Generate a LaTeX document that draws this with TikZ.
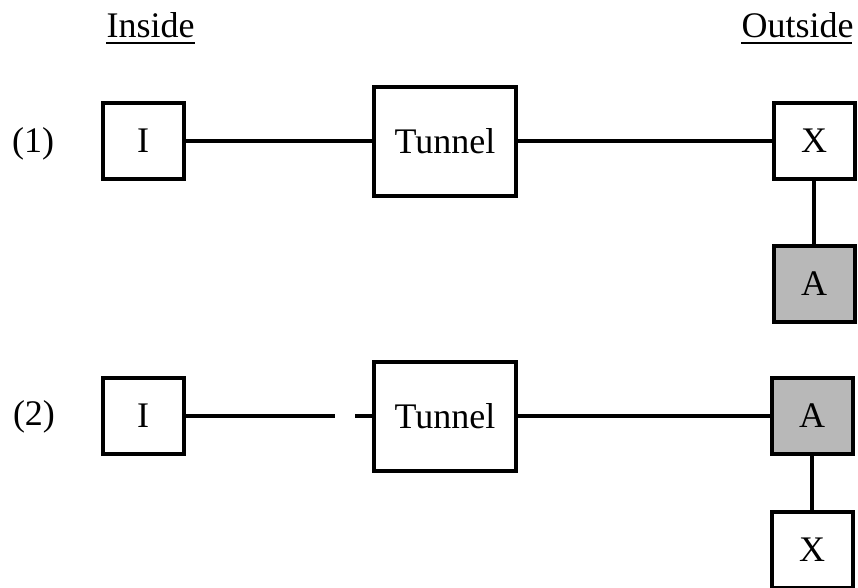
\documentclass[tikz,border=0pt]{standalone}
\usepackage{fontspec}
\setmainfont{Liberation Serif}
\begin{document}
\begin{tikzpicture}[x=1pt,y=-1pt,
  every node/.style={font=\fontsize{36}{40}\selectfont},
  box/.style={draw,line width=4pt,inner sep=0pt,minimum width=#1},
  small/.style={box=81pt,minimum height=76pt},
  tunnelbox/.style={box=142pt,minimum height=109pt},
  shaded/.style={small,fill=black!28},
  wire/.style={line width=3.5pt},
  head/.style={anchor=base,inner sep=0pt}]
\useasboundingbox (0,0) rectangle (858,587);

% column headings
\node[head] (inside) at (150.5,37) {Inside};
\node[head] (outside) at (797.5,37) {Outside};
\draw[line width=2.5pt] (inside.base west) ++(0,6) -- ++(89,0);
\draw[line width=2.5pt] (outside.base west) ++(0,6) -- ++(111,0);

% row labels
\node[head] (lab1) at (33,152) {(1)};
\node[head] (lab2) at (34,425) {(2)};

% case (1)
\node[small] (i1) at (143,141) {I};
\node[tunnelbox] (t1) at (445,141) {Tunnel};
\node[small] (x1) at (814,141) {X};
\node[shaded] (a1) at (814,284) {A};
\draw[wire] (i1) -- (t1);
\draw[wire] (t1) -- (x1);
\draw[wire] (x1) -- (a1);

% case (2): the inside link is broken
\node[small] (i2) at (143,416) {I};
\node[tunnelbox] (t2) at (445,416) {Tunnel};
\node[shaded] (a2) at (812,416) {A};
\node[small] (x2) at (812,550) {X};
\coordinate (cutL) at (335,416);
\coordinate (cutR) at (355,416);
\draw[wire] (i2) -- (cutL);
\draw[wire] (cutR) -- (t2);
\draw[wire] (t2) -- (a2);
\draw[wire] (a2) -- (x2);
\end{tikzpicture}
\end{document}
